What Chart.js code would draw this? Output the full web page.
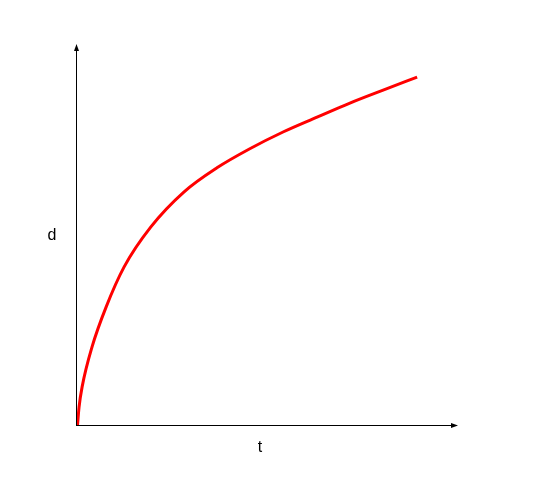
<!DOCTYPE html>
<html>
<head>
<meta charset="utf-8">
<script src="https://cdn.jsdelivr.net/npm/chart.js@4"></script>
<style>
html,body{margin:0;padding:0;background:#fff;}
#wrap{width:536px;height:479px;}
</style>
</head>
<body>
<div id="wrap"><canvas id="c" width="536" height="479"></canvas></div>
<script>
const tValues = [0.04, 0.08, 0.16, 0.42, 0.79, 1.26, 1.96, 2.83, 3.69, 4.55, 5.42, 6.31, 7.17, 8.04, 8.93];
const dValues = [0, 0.47, 1.00, 2.05, 3.10, 4.15, 5.20, 6.12, 6.75, 7.25, 7.69, 8.08, 8.45, 8.79, 9.13];
const xLabel = 't';
const yLabel = 'd';

const points = tValues.map((t, i) => ({x: t, y: dValues[i]}));

const axesPlugin = {
  id: 'axesArrows',
  afterDraw(chart) {
    const ctx = chart.ctx;
    const xs = chart.scales.x, ys = chart.scales.y;
    const x0 = xs.getPixelForValue(0), y0 = ys.getPixelForValue(0);
    const x1 = xs.getPixelForValue(10), y1 = ys.getPixelForValue(10);
    ctx.save();
    ctx.strokeStyle = '#000';
    ctx.fillStyle = '#000';
    ctx.lineWidth = 1;
    ctx.beginPath();
    ctx.moveTo(x0 + 0.5, y0);
    ctx.lineTo(x0 + 0.5, y1 + 4);
    ctx.moveTo(x0, y0 + 0.5);
    ctx.lineTo(x1 - 4, y0 + 0.5);
    ctx.stroke();
    ctx.beginPath();
    ctx.moveTo(x0 + 0.5, y1);
    ctx.lineTo(x0 + 3, y1 + 7);
    ctx.lineTo(x0 - 2, y1 + 7);
    ctx.closePath();
    ctx.fill();
    ctx.beginPath();
    ctx.moveTo(x1, y0 + 0.5);
    ctx.lineTo(x1 - 7, y0 + 3);
    ctx.lineTo(x1 - 7, y0 - 2);
    ctx.closePath();
    ctx.fill();
    ctx.font = '16px "Liberation Sans", Arial, sans-serif';
    ctx.textAlign = 'center';
    ctx.textBaseline = 'alphabetic';
    ctx.fillText(yLabel, 52, 240);
    ctx.fillText(xLabel, 260, 452);
    ctx.restore();
  }
};

new Chart(document.getElementById('c'), {
  type: 'scatter',
  data: {
    datasets: [{
      data: points,
      showLine: true,
      borderColor: '#ff0000',
      borderWidth: 3,
      pointRadius: 0,
      fill: false,
      cubicInterpolationMode: 'monotone',
      clip: false
    }]
  },
  options: {
    responsive: false,
    animation: false,
    events: [],
    layout: {padding: {left: 76, top: 44, right: 78, bottom: 54}},
    plugins: {legend: {display: false}, tooltip: {enabled: false}},
    scales: {
      x: {type: 'linear', min: 0, max: 10, display: false},
      y: {type: 'linear', min: 0, max: 10, display: false}
    }
  },
  plugins: [axesPlugin]
});
</script>
</body>
</html>
